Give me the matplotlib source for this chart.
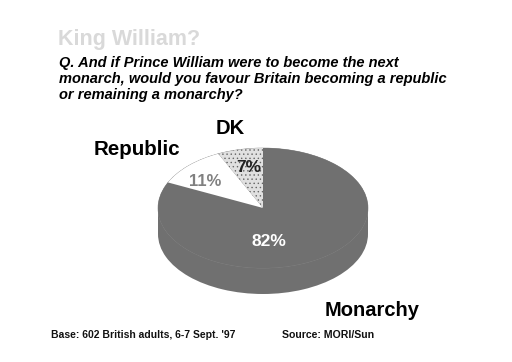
import matplotlib
matplotlib.use('Agg')
import matplotlib.pyplot as plt
from matplotlib.patches import Rectangle

plt.rcParams['font.family'] = ['Liberation Sans', 'DejaVu Sans']
plt.rcParams['hatch.linewidth'] = 0.5

W, H = 512, 362

categories = ['Monarchy', 'Republic', 'DK']
values = [82, 11, 7]
value_labels = ['82%', '11%', '7%']
title = 'King William?'
question = ['Q. And if Prince William were to become the next',
            'monarch, would you favour Britain becoming a republic',
            'or remaining a monarchy?']
base_note = "Base: 602 British adults, 6-7 Sept. '97"
source_note = 'Source: MORI/Sun'

PIE_GREY = '#707070'
DEPTH = 26 / 60


def put_text(fig, x, y, s, **kw):
    """Place text using pixel coordinates from the top left"""
    kw.setdefault('va', 'center')
    return fig.text(x / W, 1 - y / H, s, **kw)


fig = plt.figure(figsize=(W / 100, H / 100), dpi=100, facecolor='white')
ax = fig.add_axes([158 / W, (H - 294) / H, 210 / W, 146 / H])

# side of the pie: same wedge shape dropped down, joined with a rectangle
ax.pie([1], startangle=90, center=(0, -DEPTH), colors=[PIE_GREY], wedgeprops={'linewidth': 0})
ax.add_patch(Rectangle((-1, -DEPTH), 2, DEPTH, facecolor=PIE_GREY, edgecolor='none'))

# faint seam round the front of the top face
ax.pie([1], startangle=90, colors=[PIE_GREY],
       wedgeprops={'linewidth': 0.4, 'edgecolor': '#8c8c8c'})

wedges, _ = ax.pie(values, startangle=90, counterclock=False,
                   colors=[PIE_GREY, 'white', '#e0e0e0'],
                   wedgeprops={'linewidth': 0})
wedges[2].set_hatch('....')
wedges[2].set_edgecolor('#666666')
wedges[2].set_linewidth(0)

ax.set_aspect('auto')
ax.set_xlim(-1, 1)
ax.set_ylim(-1 - DEPTH, 1)

put_text(fig, 58, 40, title, fontsize=15.5, fontweight='bold', color='#d9d9d9')
for i, line in enumerate(question):
    put_text(fig, 59, 63 + i * 16.2, line, fontsize=10.5, fontweight='bold', style='italic', color='black')

put_text(fig, 269, 242, value_labels[0], fontsize=12.5, fontweight='bold', color='white', ha='center')
put_text(fig, 205, 181, value_labels[1], fontsize=12, fontweight='bold', color='#808080', ha='center')
put_text(fig, 249, 168, value_labels[2], fontsize=12.5, fontweight='bold', color='#222222', ha='center')

put_text(fig, 372, 310, categories[0], fontsize=14.5, fontweight='bold', color='black', ha='center')
put_text(fig, 137, 150, categories[1], fontsize=14.8, fontweight='bold', color='black', ha='center')
put_text(fig, 230, 128, categories[2], fontsize=14.5, fontweight='bold', color='black', ha='center')

put_text(fig, 51, 334.5, base_note, fontsize=7.5, fontweight='bold', color='#111111')
put_text(fig, 282, 334.5, source_note, fontsize=7.6, fontweight='bold', color='#111111')

fig.savefig('out.png', dpi=100)
